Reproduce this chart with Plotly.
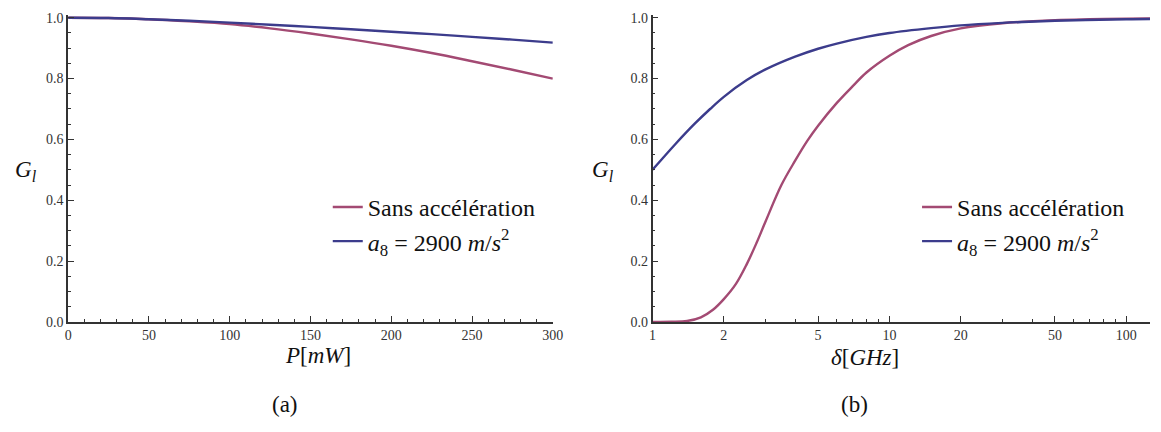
import plotly.graph_objects as go

# ---- data ----
P_mW = [0, 25, 50, 75, 100, 125, 150, 175, 200, 225, 250, 275, 300]
G_sans_a = [1.0, 0.999, 0.995, 0.988, 0.979, 0.965, 0.948, 0.929, 0.908, 0.884, 0.857, 0.829, 0.800]
G_acc_a = [1.0, 0.999, 0.995, 0.990, 0.984, 0.977, 0.970, 0.962, 0.954, 0.946, 0.937, 0.928, 0.918]

delta_red = [1, 1.2, 1.4, 1.6, 1.8, 2.0, 2.25, 2.5, 2.75, 3.0, 3.5, 4.0, 4.5, 5, 6, 7, 8, 10, 12, 15, 20, 30, 50, 70, 100, 133]
G_sans_b = [0.0, 0.0005, 0.003, 0.015, 0.04, 0.075, 0.125, 0.19, 0.26, 0.33, 0.45, 0.53, 0.595, 0.645, 0.72, 0.775, 0.82, 0.875, 0.91, 0.94, 0.965, 0.982, 0.992, 0.995, 0.997, 0.998]
delta_blue = [1, 1.25, 1.5, 1.75, 2, 2.5, 3, 4, 5, 6, 8, 10, 15, 20, 30, 50, 100, 133]
G_acc_b = [0.50, 0.585, 0.65, 0.70, 0.74, 0.795, 0.83, 0.872, 0.898, 0.915, 0.937, 0.95, 0.966, 0.975, 0.983, 0.99, 0.995, 0.996]

names = ["Sans accélération", "<i>a</i><sub>8</sub> = 2900 <i>m</i>/<i>s</i><sup>2</sup>"]
x_ticks_b = [1, 2, 5, 10, 20, 50, 100]
x_minor_b = [3, 4, 6, 7, 8, 9, 30, 40, 60, 70, 80, 90]

RED = "#A34A73"
BLUE = "#3C3C8C"
W, H = 1161, 432
SERIF = '"Liberation Serif", "Times New Roman", "DejaVu Serif", serif'

fig = go.Figure()
fig.add_trace(go.Scatter(x=P_mW, y=G_sans_a, mode="lines", line=dict(color=RED, width=2.4, shape="spline"),
                         name=names[0], legend="legend", xaxis="x", yaxis="y"))
fig.add_trace(go.Scatter(x=P_mW, y=G_acc_a, mode="lines", line=dict(color=BLUE, width=2.4, shape="spline"),
                         name=names[1], legend="legend", xaxis="x", yaxis="y"))
fig.add_trace(go.Scatter(x=delta_red, y=G_sans_b, mode="lines", line=dict(color=RED, width=2.4, shape="spline"),
                         name=names[0], legend="legend2", xaxis="x2", yaxis="y2"))
fig.add_trace(go.Scatter(x=delta_blue, y=G_acc_b, mode="lines", line=dict(color=BLUE, width=2.4, shape="spline"),
                         name=names[1], legend="legend2", xaxis="x2", yaxis="y2"))

ydom = [1 - 327 / H, 1 - 11 / H]
axis_common = dict(showline=True, linecolor="#333333", linewidth=1.5, ticks="inside", ticklen=6,
                   tickcolor="#333333", tickwidth=1.2, showgrid=False, zeroline=False,
                   tickfont=dict(family=SERIF, size=14, color="#333333"))

fig.update_layout(
    width=W, height=H, margin=dict(l=0, r=0, t=0, b=0),
    paper_bgcolor="white", plot_bgcolor="white",
    xaxis=dict(domain=[65 / W, 556 / W], range=[0, 300], tickvals=[0, 50, 100, 150, 200, 250, 300],
               minor=dict(dtick=10, ticks="inside", ticklen=3, tickcolor="#333333"), anchor="y", **axis_common),
    yaxis=dict(domain=ydom, range=[0, 1.01], tickvals=[0, 0.2, 0.4, 0.6, 0.8, 1.0], tickformat=".1f",
               minor=dict(dtick=0.05, ticks="inside", ticklen=3, tickcolor="#333333"), anchor="x", **axis_common),
    xaxis2=dict(domain=[657 / W, 1.0], type="log", range=[0, 2.1], tickvals=x_ticks_b,
                minor=dict(tickvals=x_minor_b, ticks="inside", ticklen=3, tickcolor="#333333"), anchor="y2", **axis_common),
    yaxis2=dict(domain=ydom, range=[0, 1.01], tickvals=[0, 0.2, 0.4, 0.6, 0.8, 1.0], tickformat=".1f",
                minor=dict(dtick=0.05, ticks="inside", ticklen=3, tickcolor="#333333"), anchor="x2", **axis_common),
    legend=dict(x=328 / W, y=1 - 186 / H, xanchor="left", yanchor="top", bgcolor="rgba(0,0,0,0)",
                font=dict(family=SERIF, size=24, color="#111111")),
    legend2=dict(x=925 / W, y=1 - 186 / H, xanchor="left", yanchor="top", bgcolor="rgba(0,0,0,0)",
                 font=dict(family=SERIF, size=24, color="#111111")),
    showlegend=True,
)

ann_font = dict(family=SERIF, size=23, color="#111111")
anns = [
    ("<i>G<sub>l</sub></i>", 22, 172),
    ("<i>G<sub>l</sub></i>", 607, 172),
    ("<i>P</i>[<i>mW</i>]", 318, 362),
    ("<i>δ</i>[<i>GHz</i>]", 872, 364),
    ("(a)", 285, 412),
    ("(b)", 862, 412),
]
for txt, px, py in anns:
    fig.add_annotation(text=txt, x=px / W, y=1 - py / H, xref="paper", yref="paper",
                       showarrow=False, font=ann_font, xanchor="center", yanchor="middle")

fig.write_html("out.html", config={"displayModeBar": False},
               post_script="document.body.style.margin='0';document.body.style.overflow='hidden';")
